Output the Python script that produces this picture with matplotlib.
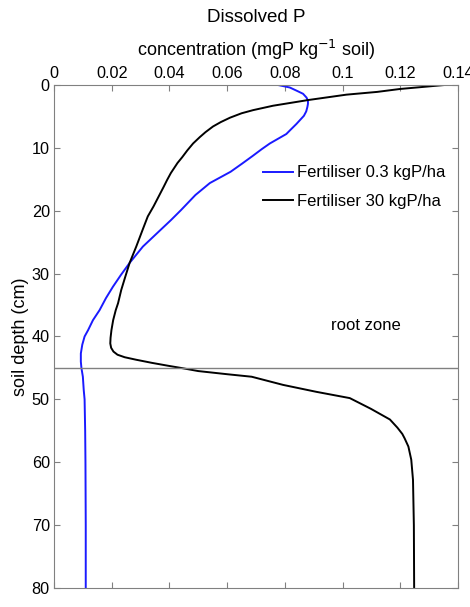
import matplotlib.pyplot as plt
import numpy as np

plt.rcParams['font.family'] = ['Liberation Sans', 'DejaVu Sans']

# profiles: depth (cm), concentration (mgP/kg soil)
depth_low = [0, 0.4, 1.0, 1.4, 2.0, 2.5, 3.0, 3.5, 4.2, 4.9, 5.6, 6.2, 7.2,
             7.8, 9.3, 10.2, 11.3, 12.5, 13.8, 15.6, 17.5, 19.9, 21.5, 23.1,
             25.7, 28.3, 30.2, 32.1, 33.9, 35.8, 37.4, 39.0, 40.0, 41.3,
             42.7, 44.0, 45.0, 46.4, 48.5, 50, 55, 60, 70, 80]
conc_low = [0.0776, 0.0817, 0.0845, 0.0863, 0.0875, 0.0880, 0.0880, 0.0878,
            0.0874, 0.0866, 0.0852, 0.0840, 0.0818, 0.0805, 0.0748, 0.0720,
            0.0688, 0.0652, 0.0612, 0.0540, 0.0490, 0.0440, 0.0405, 0.0368,
            0.0308, 0.0262, 0.0232, 0.0204, 0.0180, 0.0158, 0.0135, 0.0118,
            0.0106, 0.0098, 0.0093, 0.0093, 0.0095, 0.0100, 0.0103, 0.0106,
            0.0108, 0.0109, 0.0110, 0.0110]

depth_high = [0, 0.64, 1.1, 1.54, 2.4, 3.3, 4.0, 4.5, 5.2, 5.9, 6.6, 7.5,
              8.3, 9.3, 10.4, 11.5, 12.4, 14.0, 15.1, 16.2, 19.3, 20.9, 22.8,
              25.7, 28.3, 30.5, 32.6, 34.7, 35.8, 37.4, 39.0, 40.2, 41.1,
              41.8, 42.4, 42.9, 43.3, 43.7, 44.2, 44.7, 45.0, 45.5, 46.0,
              46.4, 47.7, 48.8, 49.8, 51.5, 53.2, 54.5, 55.5, 56.2, 57.5,
              59.6, 62.8, 70, 80]
conc_high = [0.1354, 0.1198, 0.1120, 0.1013, 0.0880, 0.0759, 0.0690, 0.0650,
             0.0610, 0.0578, 0.0551, 0.0525, 0.0505, 0.0482, 0.0462, 0.0444,
             0.0428, 0.0405, 0.0392, 0.0380, 0.0345, 0.0325, 0.0309, 0.0285,
             0.0262, 0.0247, 0.0233, 0.0222, 0.0214, 0.0205, 0.0199, 0.0196,
             0.0195, 0.0198, 0.0206, 0.0220, 0.0245, 0.0285, 0.0340, 0.0401,
             0.0440, 0.0500, 0.0600, 0.0685, 0.0794, 0.0909, 0.1025, 0.1098,
             0.1164, 0.1190, 0.1207, 0.1215, 0.1228, 0.1238, 0.1244, 0.1247,
             0.1248]

root_depth = 45
xticks = [0, 0.02, 0.04, 0.06, 0.08, 0.1, 0.12, 0.14]
xticklabels = ['0', '0.02', '0.04', '0.06', '0.08', '0.1', '0.12', '0.14']
yticks = [0, 10, 20, 30, 40, 50, 60, 70, 80]

fig = plt.figure(figsize=(4.7, 6.07), dpi=100)
ax = fig.add_axes([0.1149, 0.0313, 0.8596, 0.8287])

ax.plot(conc_low, depth_low, color='#1a1aff', lw=1.4, label='Fertiliser 0.3 kgP/ha')
ax.plot(conc_high, depth_high, color='black', lw=1.4, label='Fertiliser 30 kgP/ha')
ax.axhline(root_depth, color='#808080', lw=1.0)

ax.set_xlim(0, 0.14)
ax.set_ylim(80, 0)
ax.xaxis.tick_top()
ax.xaxis.set_label_position('top')
ax.set_xticks(xticks)
ax.set_xticklabels(xticklabels)
ax.set_yticks(yticks)
ax.tick_params(direction='in', length=4, color='#808080', labelsize=11.7,
               top=True, bottom=True, left=True, right=True, pad=3)
for s in ax.spines.values():
    s.set_color('#808080')
    s.set_linewidth(0.8)

ax.set_xlabel('concentration (mgP kg$^{-1}$ soil)', fontsize=13, labelpad=7)
ax.set_ylabel('soil depth (cm)', fontsize=13, labelpad=2)
# title placed by hand, above the top axis label
fig.text(256 / 470, 1 - 18 / 607, 'Dissolved P', fontsize=13.5,
         ha='center', va='center')

ax.text(0.108, 38.3, 'root zone', fontsize=12, ha='center', va='center')

ax.legend(loc='upper left', bbox_to_anchor=(0.48, 0.87), frameon=False,
          fontsize=12, handlelength=1.8, handletextpad=0.25, labelspacing=0.8)

fig.savefig('out.png', dpi=100)
